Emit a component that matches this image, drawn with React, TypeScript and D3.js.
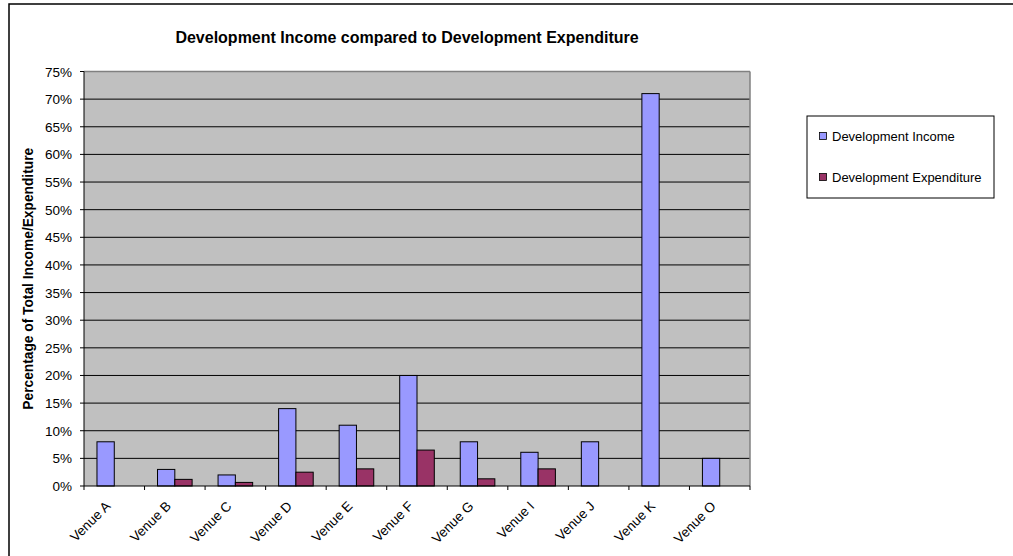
import React from "react";
import * as d3 from "d3";

const categories = ["Venue A", "Venue B", "Venue C", "Venue D", "Venue E", "Venue F", "Venue G", "Venue I", "Venue J", "Venue K", "Venue O"];
const incomeValues = [8, 3, 2, 14, 11, 20, 8, 6.1, 8, 71, 5];
const expenditureValues = [0, 1.2, 0.65, 2.5, 3.1, 6.5, 1.3, 3.1, 0, 0, 0];
const seriesNames = ["Development Income", "Development Expenditure"];
const seriesColors = ["#9999FF", "#993366"];
const yTicks = [0, 5, 10, 15, 20, 25, 30, 35, 40, 45, 50, 55, 60, 65, 70, 75];

const W = 1013, H = 556;
const plot = { left: 84, right: 750, top: 71.5, bottom: 486 };

export default function App() {
  const x = d3.scaleBand<string>().domain(categories).range([plot.left, plot.right]).paddingInner(0).paddingOuter(0);
  const y = d3.scaleLinear().domain([0, 75]).range([plot.bottom, plot.top]);
  const bw = x.bandwidth();
  const barW = bw / 3.5;
  const gap = barW * 0.75;
  const series = [incomeValues, expenditureValues];
  const font = "Arial, 'Liberation Sans', sans-serif";
  const legendY = [136, 177];

  return (
    <svg width={W} height={H} style={{ position: "absolute", left: 0, top: 0 }} fontFamily={font}>
      <rect x={0} y={0} width={W} height={H} fill="#fff" />
      <rect x={9} y={4} width={1100} height={700} fill="#fff" stroke="#000" strokeWidth={1.5} />
      <text x={407} y={43} textAnchor="middle" fontSize={16} fontWeight="bold">Development Income compared to Development Expenditure</text>
      <rect x={plot.left} y={plot.top} width={plot.right - plot.left} height={plot.bottom - plot.top} fill="#C0C0C0" />
      {yTicks.map((t) => (
        <g key={t}>
          {t > 0 && t < 75 && <line x1={plot.left} x2={plot.right} y1={y(t)} y2={y(t)} stroke="#000" strokeWidth={1} />}
          <line x1={plot.left - 4} x2={plot.left} y1={y(t)} y2={y(t)} stroke="#000" />
          <text x={plot.left - 12} y={y(t) + 5} textAnchor="end" fontSize={13.5}>{t}%</text>
        </g>
      ))}
      <line x1={plot.left} x2={plot.right} y1={plot.top} y2={plot.top} stroke="#808080" strokeWidth={1.5} />
      <line x1={plot.right} x2={plot.right} y1={plot.top} y2={plot.bottom} stroke="#808080" strokeWidth={1.5} />
      {categories.map((c, i) =>
        series.map((vals, s) => {
          const v = vals[i];
          if (!v) return null;
          const bx = (x(c) as number) + gap + s * barW;
          return (
            <rect key={c + s} x={bx} y={y(v)} width={barW} height={y(0) - y(v)} fill={seriesColors[s]} stroke="#000" strokeWidth={1} />
          );
        })
      )}
      <line x1={plot.left} x2={plot.left} y1={plot.top} y2={plot.bottom + 4} stroke="#000" />
      <line x1={plot.left} x2={plot.right} y1={plot.bottom} y2={plot.bottom} stroke="#000" />
      {categories.map((c) => (
        <line key={c} x1={(x(c) as number) + bw} x2={(x(c) as number) + bw} y1={plot.bottom} y2={plot.bottom + 4} stroke="#000" />
      ))}
      {categories.map((c) => {
        const cx = (x(c) as number) + bw / 2 - 3;
        const cy = plot.bottom + 21;
        return (
          <text key={c} transform={`translate(${cx},${cy}) rotate(-45)`} textAnchor="end" fontSize={13.5}>{c}</text>
        );
      })}
      <text transform={`translate(33,${(plot.top + plot.bottom) / 2}) rotate(-90)`} textAnchor="middle" fontSize={13.75} fontWeight="bold">Percentage of Total Income/Expenditure</text>
      <rect x={807} y={116} width={187} height={82} fill="#fff" stroke="#000" strokeWidth={1} />
      {seriesNames.map((n, i) => (
        <g key={n}>
          <rect x={819.5} y={legendY[i] - 3.5} width={7} height={7} fill={seriesColors[i]} stroke="#000" strokeWidth={0.8} />
          <text x={832} y={legendY[i] + 4.5} fontSize={13}>{n}</text>
        </g>
      ))}
    </svg>
  );
}
